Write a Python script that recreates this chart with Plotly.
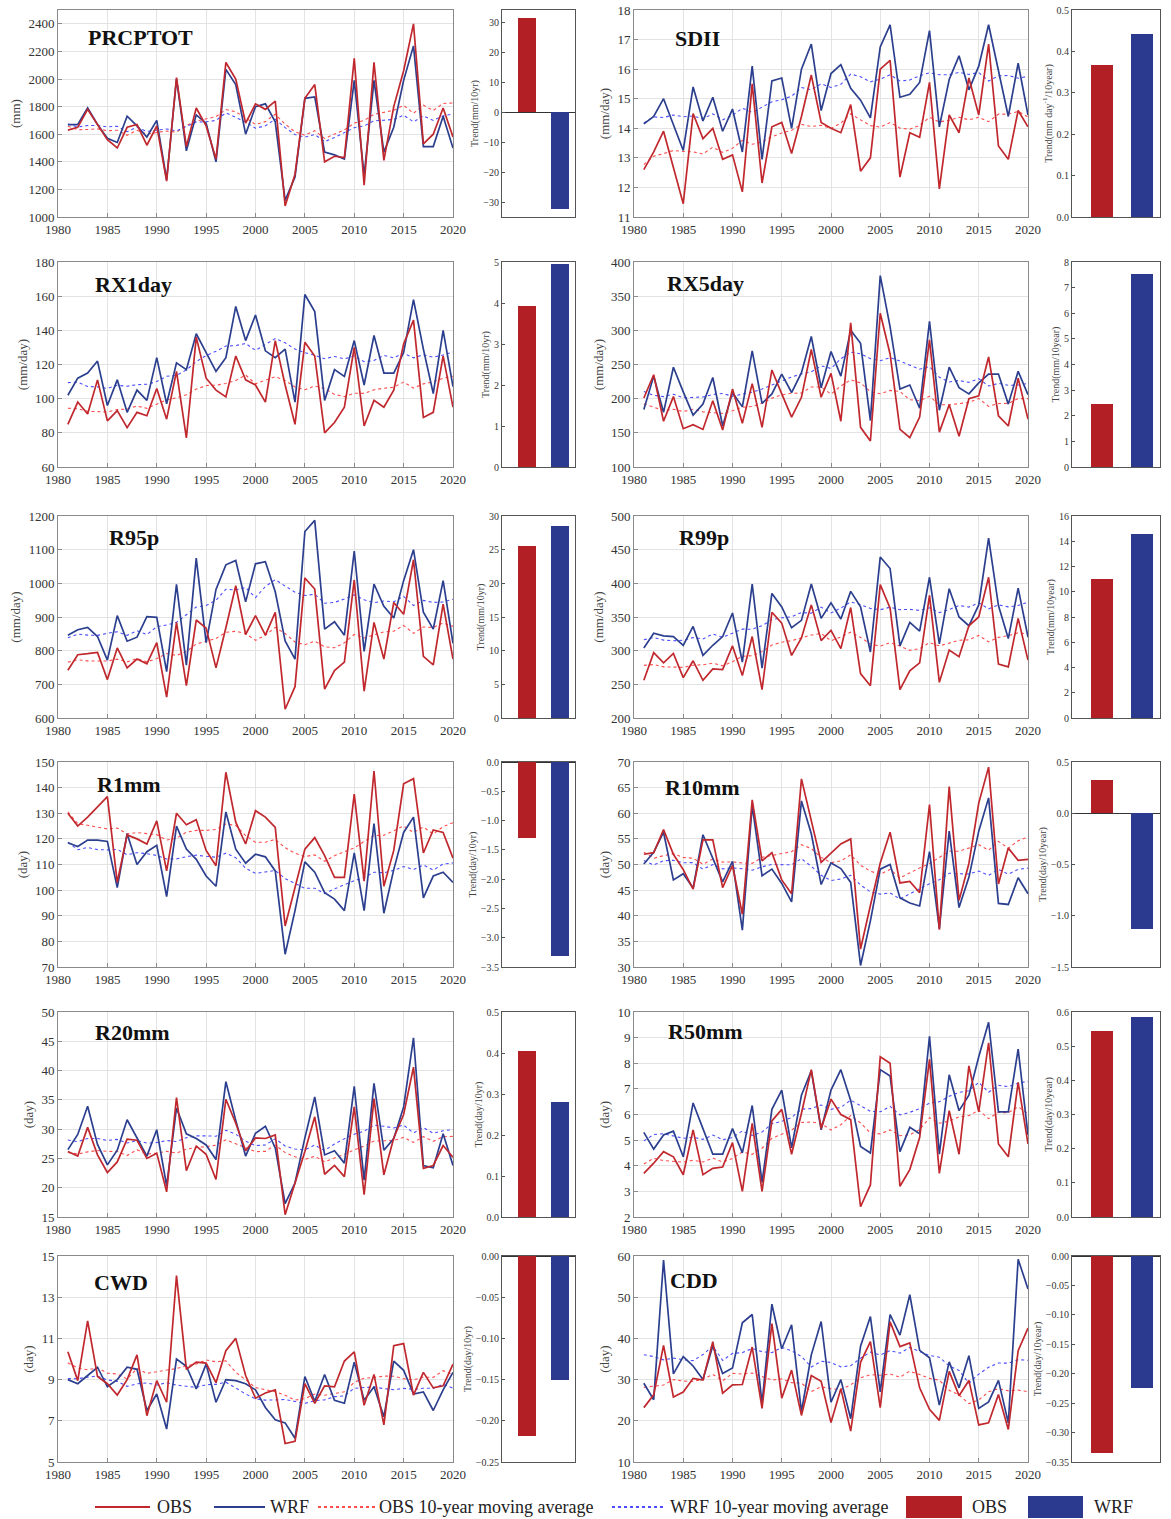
import plotly.graph_objects as go
import pandas as pd

W, H = 1171, 1519
years = list(range(1981, 2021))

# ---------------- data ----------------
prcptot_obs = [1630, 1650, 1780, 1670, 1560, 1500, 1650, 1670, 1520, 1660, 1260, 2010, 1510, 1790, 1660, 1420, 2120, 2000, 1680, 1820,
               1780, 1840, 1080, 1310, 1860, 1960, 1400, 1440, 1430, 2150, 1230, 2120, 1410, 1800, 2060, 2400, 1530, 1600, 1790, 1580]
prcptot_wrf = [1670, 1670, 1790, 1670, 1570, 1540, 1730, 1660, 1580, 1700, 1270, 2000, 1480, 1740, 1680, 1400, 2070, 1960, 1600, 1800,
               1820, 1690, 1120, 1290, 1860, 1870, 1470, 1450, 1420, 1990, 1300, 1990, 1470, 1650, 1990, 2240, 1510, 1510, 1730, 1500]
sdii_obs = [12.6, 13.2, 13.9, 12.7, 11.45, 14.5, 13.65, 14.0, 12.95, 13.1, 11.85, 15.5, 12.15, 14.05, 14.2, 13.15, 14.4, 15.8, 14.2, 14.0,
            13.85, 14.8, 12.55, 13.0, 16.0, 16.3, 12.35, 13.85, 13.7, 15.55, 11.95, 14.45, 13.85, 15.7, 14.45, 16.85, 13.4, 12.95, 14.6, 14.05]
sdii_wrf = [14.15, 14.4, 15.0, 14.1, 13.25, 15.4, 14.25, 15.05, 13.9, 14.65, 13.2, 16.1, 12.95, 15.6, 15.7, 14.0, 16.0, 16.85, 14.6, 15.85,
            16.15, 15.35, 14.95, 14.35, 16.75, 17.5, 15.05, 15.15, 15.55, 17.3, 14.05, 15.65, 16.45, 15.3, 16.1, 17.5, 15.9, 14.4, 16.2, 14.45]
rx1day_obs = [85, 98, 91, 111, 87, 93, 83, 92, 90, 106, 88, 116, 77, 136, 112, 105, 101, 125, 111, 108,
              98, 134, 108, 85, 133, 125, 80, 86, 95, 130, 84, 99, 95, 105, 132, 146, 89, 92, 125, 95]
rx1day_wrf = [102, 112, 115, 122, 96, 111, 92, 105, 99, 124, 97, 121, 117, 138, 127, 116, 124, 154, 134, 149,
              128, 124, 129, 98, 161, 151, 99, 117, 113, 134, 108, 137, 115, 115, 127, 158, 129, 103, 140, 107]
rx5day_obs = [201, 235, 167, 203, 156, 162, 155, 197, 154, 214, 164, 222, 158, 242, 207, 173, 202, 272, 202, 237,
              167, 311, 158, 138, 325, 265, 155, 143, 173, 286, 151, 191, 145, 200, 204, 261, 175, 160, 230, 170]
rx5day_wrf = [184, 233, 180, 246, 210, 176, 192, 231, 160, 209, 188, 270, 193, 207, 236, 209, 238, 291, 216, 269,
              233, 300, 281, 168, 380, 305, 214, 220, 186, 313, 183, 246, 216, 207, 223, 236, 236, 192, 240, 206]
r95p_obs = [742, 788, 791, 795, 714, 808, 749, 775, 761, 824, 662, 884, 696, 891, 867, 749, 868, 993, 848, 904,
            846, 914, 626, 693, 1016, 983, 686, 741, 766, 1010, 680, 884, 775, 943, 908, 1070, 783, 758, 938, 775]
r95p_wrf = [846, 862, 869, 842, 772, 904, 828, 840, 901, 899, 738, 997, 757, 1075, 824, 982, 1055, 1068, 945, 1058,
            1064, 975, 829, 775, 1154, 1187, 864, 886, 846, 1096, 798, 998, 932, 897, 1008, 1100, 914, 864, 1008, 822]
r99p_obs = [256, 297, 282, 296, 260, 285, 256, 273, 272, 307, 263, 321, 242, 357, 341, 293, 319, 368, 315, 330,
            303, 364, 266, 248, 398, 363, 242, 270, 282, 382, 253, 301, 291, 337, 350, 409, 280, 276, 348, 286]
r99p_wrf = [304, 326, 322, 321, 308, 336, 293, 308, 321, 356, 283, 399, 274, 385, 365, 334, 345, 399, 348, 371,
            347, 388, 365, 298, 439, 422, 307, 342, 329, 409, 310, 392, 350, 337, 368, 467, 367, 318, 393, 320]
r1mm_obs = [130, 125, 128.5, 132.5, 136.5, 103, 121.5, 120, 118, 127, 107.5, 130, 125.5, 127.5, 115.5, 109.5, 146, 126.5, 118, 131,
            128.5, 124.5, 86, 101, 116, 120.5, 113.5, 105, 105, 137.5, 103.5, 146.5, 101.5, 115.5, 141.5, 143.5, 114.5, 123.5, 122.5, 112.5]
r1mm_wrf = [118.5, 117, 119.5, 119.5, 119, 101, 122, 110, 115, 117.5, 97.5, 125, 116, 112, 105.5, 101.5, 130.5, 116, 110.5, 114,
            113, 107.5, 75, 92, 111, 107, 99, 96.5, 92, 114.5, 92, 126, 91, 108, 122.5, 128.5, 97, 105.5, 107, 103]
r10mm_obs = [52, 52.3, 56.8, 52, 49, 45.2, 54.8, 54.8, 45.5, 49.8, 40.3, 62.6, 50.7, 52.3, 47, 44.3, 66.7, 58.5, 50.4, 52.2,
             54, 55, 33.5, 42, 50.3, 56.3, 46.4, 46.7, 44.5, 61.7, 37.3, 65.2, 43, 50.2, 62, 69, 46.2, 53.2, 50.8, 51]
r10mm_wrf = [50.1, 52.4, 56.3, 47, 48.2, 45.4, 55.8, 51.3, 46.6, 50.6, 37.2, 61.5, 47.8, 49.1, 46.3, 42.7, 62.4, 56, 46.1, 50.3,
             49.2, 46.5, 30.3, 39, 49.1, 50, 43.5, 42.5, 41.9, 52.5, 37.5, 56.5, 41.6, 47.5, 56.5, 63, 42.4, 42.2, 47.4, 44.3]
r20mm_obs = [26.2, 25.4, 30.3, 25.6, 22.6, 24.4, 28.3, 28.1, 25, 25.9, 19.3, 35.4, 22.9, 27.1, 25.7, 21.4, 35.1, 31, 26.3, 28.5,
             28.4, 29, 15.4, 20.8, 26.2, 32.1, 22.3, 23.8, 21.9, 33.8, 18.8, 35.2, 22.2, 28.5, 32.5, 40.6, 23.3, 23.8, 27.2, 25.2]
r20mm_wrf = [26.5, 29.1, 33.9, 27.4, 23.9, 26.4, 31.6, 28.4, 25.4, 29.9, 20.3, 33.6, 29.2, 28.4, 27.3, 24.8, 38.1, 31.5, 25.4, 29.3,
             30.5, 26.8, 17.3, 20.8, 28.5, 35.5, 25.6, 26.3, 24.2, 37.3, 21.3, 37.8, 26.4, 28.4, 33.8, 45.6, 23.8, 23.4, 29.2, 23.8]
r50mm_obs = [3.7, 4.1, 4.55, 4.35, 3.65, 5.4, 3.65, 3.9, 3.95, 4.9, 3.0, 5.65, 3.0, 5.75, 6.2, 4.45, 6.05, 7.75, 5.45, 6.6,
             6.0, 5.8, 2.4, 3.25, 8.25, 8.0, 3.2, 3.85, 5.1, 8.15, 3.7, 6.15, 4.45, 7.9, 6.1, 8.8, 4.85, 4.35, 7.25, 4.85]
r50mm_wrf = [5.3, 4.65, 5.2, 5.35, 4.35, 6.45, 5.45, 4.45, 4.45, 5.45, 4.5, 6.35, 3.35, 6.2, 6.95, 4.7, 6.75, 7.7, 5.4, 6.95,
             7.75, 6.55, 4.75, 4.5, 7.75, 7.5, 4.55, 5.5, 5.25, 9.05, 4.45, 7.55, 6.15, 6.75, 8.25, 9.6, 6.1, 6.1, 8.55, 5.2]
cwd_obs = [10.35, 8.95, 11.85, 9.15, 8.8, 8.25, 9.0, 10.2, 7.25, 8.95, 7.9, 14.05, 9.5, 9.85, 9.8, 8.85, 10.4, 11.0, 9.2, 8.1,
           8.35, 8.5, 5.9, 6.0, 8.8, 7.85, 8.7, 8.65, 9.9, 10.35, 7.75, 9.25, 6.8, 10.65, 10.75, 8.25, 9.35, 8.6, 8.7, 9.75]
cwd_wrf = [9.0, 8.8, 9.2, 9.6, 8.65, 9.0, 9.6, 9.5, 7.5, 8.3, 6.6, 10.0, 9.65, 8.55, 9.75, 7.9, 9.0, 8.95, 8.8, 8.5,
           7.65, 7.05, 6.9, 6.15, 9.15, 7.95, 9.25, 8.0, 7.85, 9.85, 8.0, 8.65, 7.2, 9.9, 9.45, 8.3, 8.4, 7.5, 8.5, 9.35]
cdd_obs = [23.2, 26.3, 38.3, 25.8, 27.0, 30.3, 29.9, 39.2, 26.7, 28.7, 28.8, 37.9, 23.0, 43.6, 25.5, 32.3, 21.3, 31.0, 29.6, 19.6,
           27.8, 17.5, 34.2, 39.2, 23.2, 44.0, 38.0, 38.9, 28.0, 22.8, 20.1, 32.0, 26.1, 29.8, 19.0, 19.5, 26.4, 17.9, 37.0, 42.5]
cdd_wrf = [29.1, 25.1, 59.0, 31.4, 35.6, 33.3, 30.0, 38.2, 31.5, 32.8, 43.8, 45.8, 24.3, 48.3, 37.5, 43.3, 22.2, 36.0, 44.1, 24.5,
           30.0, 20.5, 38.1, 45.3, 27.0, 45.8, 40.8, 50.6, 37.1, 35.3, 23.8, 34.3, 28.0, 35.8, 23.0, 24.6, 29.8, 19.5, 59.2, 52.0]

# trends (per 10 years): [OBS, WRF]
trend_prcptot = [31.5, -32.3]
trend_sdii = [0.367, 0.443]
trend_rx1day = [3.93, 4.95]
trend_rx5day = [2.46, 7.55]
trend_r95p = [25.6, 28.5]
trend_r99p = [11.0, 14.6]
trend_r1mm = [-1.3, -3.32]
trend_r10mm = [0.32, -1.13]
trend_r20mm = [0.405, 0.28]
trend_r50mm = [0.545, 0.585]
trend_cwd = [-0.218, -0.15]
trend_cdd = [-0.335, -0.224]

index_names = ["PRCPTOT", "SDII", "RX1day", "RX5day", "R95p", "R99p",
               "R1mm", "R10mm", "R20mm", "R50mm", "CWD", "CDD"]

# ---------------- styling / layout ----------------
FONT = "Liberation Serif"
C_OBS = "#c0282e"
C_WRF = "#2c3f8e"
C_OBS_MA = "#ff4d4d"
C_WRF_MA = "#4d4dff"
C_BAR_OBS = "#b21f24"
C_BAR_WRF = "#2b3a8e"
FRAME = "#8a8a8a"
GRID = "#e3e3e3"
TICKC = "#333333"

panels = [
    dict(obs=prcptot_obs, wrf=prcptot_wrf, trend=trend_prcptot, ytitle="(mm)", yr=[1000, 2500], dt=200, t0=1000,
         br=[-35, 34], bdt=10, bfmt="d", bt="Trend(mm/10yr)"),
    dict(obs=sdii_obs, wrf=sdii_wrf, trend=trend_sdii, ytitle="(mm/day)", yr=[11, 18], dt=1, t0=11,
         br=[0, 0.5], bdt=0.1, bfmt=".1f", bt="Trend(mm day<sup>-1</sup>/10year)"),
    dict(obs=rx1day_obs, wrf=rx1day_wrf, trend=trend_rx1day, ytitle="(mm/day)", yr=[60, 180], dt=20, t0=60,
         br=[0, 5], bdt=1, bfmt="d", bt="Trend(mm/10yr)"),
    dict(obs=rx5day_obs, wrf=rx5day_wrf, trend=trend_rx5day, ytitle="(mm/day)", yr=[100, 400], dt=50, t0=100,
         br=[0, 8], bdt=1, bfmt="d", bt="Trend(mm/10year)"),
    dict(obs=r95p_obs, wrf=r95p_wrf, trend=trend_r95p, ytitle="(mm/day)", yr=[600, 1200], dt=100, t0=600,
         br=[0, 30], bdt=5, bfmt="d", bt="Trend(mm/10yr)"),
    dict(obs=r99p_obs, wrf=r99p_wrf, trend=trend_r99p, ytitle="(mm/day)", yr=[200, 500], dt=50, t0=200,
         br=[0, 16], bdt=2, bfmt="d", bt="Trend(mm/10year)"),
    dict(obs=r1mm_obs, wrf=r1mm_wrf, trend=trend_r1mm, ytitle="(day)", yr=[70, 150], dt=10, t0=70,
         br=[-3.5, 0], bdt=0.5, bfmt=".1f", bt="Trend(day/10yr)"),
    dict(obs=r10mm_obs, wrf=r10mm_wrf, trend=trend_r10mm, ytitle="(day)", yr=[30, 70], dt=5, t0=30,
         br=[-1.5, 0.5], bdt=0.5, bfmt=".1f", bt="Trend(day/10year)"),
    dict(obs=r20mm_obs, wrf=r20mm_wrf, trend=trend_r20mm, ytitle="(day)", yr=[15, 50], dt=5, t0=15,
         br=[0, 0.5], bdt=0.1, bfmt=".1f", bt="Trend(day/10yr)"),
    dict(obs=r50mm_obs, wrf=r50mm_wrf, trend=trend_r50mm, ytitle="(day)", yr=[2, 10], dt=1, t0=2,
         br=[0, 0.6], bdt=0.1, bfmt=".1f", bt="Trend(day/10year)"),
    dict(obs=cwd_obs, wrf=cwd_wrf, trend=trend_cwd, ytitle="(day)", yr=[5, 15], dt=2, t0=5,
         br=[-0.25, 0], bdt=0.05, bfmt=".2f", bt="Trend(day/10yr)"),
    dict(obs=cdd_obs, wrf=cdd_wrf, trend=trend_cdd, ytitle="(day)", yr=[10, 60], dt=10, t0=10,
         br=[-0.35, 0], bdt=0.05, bfmt=".2f", bt="Trend(day/10year)"),
]

# pixel boxes: (top, bottom) per row, (left, right) per column
row_box = [(10, 217), (262, 467), (516, 718), (762, 967), (1012, 1217), (1256, 1462)]
line_x = [(58, 453), (634, 1028)]
bar_x = [(502, 575), (1072, 1160)]
label_pos = [(86, 37), (673, 38), (93, 285), (665, 284), (107, 537), (677, 537),
             (95, 784), (663, 787), (93, 1032), (666, 1031), (92, 1282), (668, 1280)]


def fx(px):
    return px / W


def fy(py):
    return 1 - py / H


def ma10(vals):
    return pd.Series(vals).rolling(10, center=True, min_periods=1).mean().tolist()


fig = go.Figure()
layout = {}
annotations = []
shapes = []

for i, p in enumerate(panels):
    col = i % 2
    row = i // 2
    top, bot = row_box[row]
    kl = 2 * i + 1
    kb = 2 * i + 2
    xl = "x" if kl == 1 else f"x{kl}"
    yl = "y" if kl == 1 else f"y{kl}"
    xb, yb = f"x{kb}", f"y{kb}"

    fig.add_trace(go.Scatter(x=years, y=ma10(p["obs"]), mode="lines", xaxis=xl, yaxis=yl,
                             line=dict(color=C_OBS_MA, width=1.1, dash="dot"), showlegend=False))
    fig.add_trace(go.Scatter(x=years, y=ma10(p["wrf"]), mode="lines", xaxis=xl, yaxis=yl,
                             line=dict(color=C_WRF_MA, width=1.1, dash="dot"), showlegend=False))
    fig.add_trace(go.Scatter(x=years, y=p["wrf"], mode="lines", xaxis=xl, yaxis=yl,
                             line=dict(color=C_WRF, width=1.7), showlegend=False))
    fig.add_trace(go.Scatter(x=years, y=p["obs"], mode="lines", xaxis=xl, yaxis=yl,
                             line=dict(color=C_OBS, width=1.7), showlegend=False))
    fig.add_trace(go.Bar(x=[1, 2], y=p["trend"], xaxis=xb, yaxis=yb, width=0.55,
                         marker=dict(color=[C_BAR_OBS, C_BAR_WRF], line=dict(width=0)), showlegend=False))

    lx0, lx1 = line_x[col]
    bx0, bx1 = bar_x[col]
    sfx_l = "" if kl == 1 else str(kl)
    layout[f"xaxis{sfx_l}"] = dict(domain=[fx(lx0), fx(lx1)], anchor=yl, range=[1980, 2020], automargin=False,
                                   tick0=1980, dtick=5, showgrid=True, gridcolor=GRID, gridwidth=1,
                                   showline=True, linecolor=FRAME, linewidth=1, mirror=True,
                                   ticks="inside", ticklen=4, tickcolor=FRAME, zeroline=False,
                                   tickfont=dict(family=FONT, size=13, color=TICKC))
    layout[f"yaxis{sfx_l}"] = dict(domain=[fy(bot), fy(top)], anchor=xl, range=p["yr"], automargin=False,
                                   tick0=p["t0"], dtick=p["dt"], showgrid=True, gridcolor=GRID, gridwidth=1,
                                   showline=True, linecolor=FRAME, linewidth=1, mirror=True,
                                   ticks="inside", ticklen=4, tickcolor=FRAME, zeroline=False,
                                   tickfont=dict(family=FONT, size=13, color=TICKC),
                                   title=dict(text=p["ytitle"], font=dict(family=FONT, size=13, color="#444"),
                                              standoff=4))
    layout[f"xaxis{kb}"] = dict(domain=[fx(bx0), fx(bx1)], anchor=yb, range=[0.26, 2.44], automargin=False,
                                showticklabels=False, ticks="", showgrid=False, zeroline=False,
                                showline=True, linecolor="#555", linewidth=1, mirror=True)
    layout[f"yaxis{kb}"] = dict(domain=[fy(bot), fy(top)], anchor=xb, range=p["br"], dtick=p["bdt"],
                                automargin=False,
                                tickformat=p["bfmt"], showgrid=False, zeroline=True, zerolinecolor="#333",
                                zerolinewidth=1, showline=True, linecolor="#555", linewidth=1, mirror=True,
                                ticks="inside", ticklen=3, tickcolor="#555",
                                tickfont=dict(family=FONT, size=10, color=TICKC),
                                title=dict(text=p["bt"], font=dict(family=FONT, size=10, color="#444"),
                                           standoff=2))

    lpx, lpy = label_pos[i]
    annotations.append(dict(x=fx(lpx), y=fy(lpy), xref="paper", yref="paper", xanchor="left",
                            yanchor="middle", showarrow=False, text=f"<b>{index_names[i]}</b>",
                            font=dict(family=FONT, size=22, color="#111")))

# ---------------- manual legend ----------------
LY = 1507
leg_lines = [(95, 150, C_OBS, "solid", "OBS", 155), (214, 265, C_WRF, "solid", "WRF", 268),
             (318, 375, C_OBS_MA, "dot", "OBS 10-year moving average", 377),
             (612, 665, C_WRF_MA, "dot", "WRF 10-year moving average", 668)]
for x0, x1, c, d, t, tx in leg_lines:
    shapes.append(dict(type="line", xref="paper", yref="paper", x0=fx(x0), x1=fx(x1), y0=fy(LY), y1=fy(LY),
                       line=dict(color=c, width=1.8, dash=d)))
    annotations.append(dict(x=fx(tx), y=fy(LY), xref="paper", yref="paper", xanchor="left", yanchor="middle",
                            showarrow=False, text=t, font=dict(family=FONT, size=18, color="#222")))
for x0, x1, c, t, tx in [(906, 962, C_BAR_OBS, "OBS", 970), (1028, 1083, C_BAR_WRF, "WRF", 1092)]:
    shapes.append(dict(type="rect", xref="paper", yref="paper", x0=fx(x0), x1=fx(x1), y0=fy(1518), y1=fy(1496),
                       fillcolor=c, line=dict(width=0)))
    annotations.append(dict(x=fx(tx), y=fy(LY), xref="paper", yref="paper", xanchor="left", yanchor="middle",
                            showarrow=False, text=t, font=dict(family=FONT, size=18, color="#222")))

fig.update_layout(width=W, height=H, margin=dict(l=0, r=0, t=0, b=0, autoexpand=False), paper_bgcolor="white",
                  plot_bgcolor="white", showlegend=False, bargap=0, annotations=annotations, shapes=shapes,
                  font=dict(family=FONT), **layout)

fig.write_html("out.html", config={"displayModeBar": False},
               post_script="document.body.style.margin='0px';document.body.style.overflow='hidden';")
